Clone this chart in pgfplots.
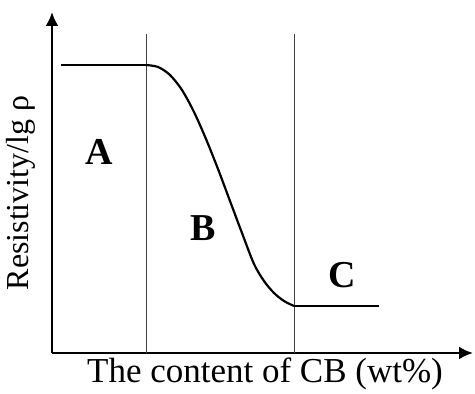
\documentclass[border=0pt]{standalone}
\usepackage{fontspec}
\setmainfont{Liberation Serif}
\usepackage{pgfplots}
\pgfplotsset{compat=1.18}
\usetikzlibrary{arrows.meta}

\pgfplotstableread{
x y
146 324
158 322
170 314
182 299
194 277
206 250
218 220
230 188
242 156
254 125
264 108
274 96
284 88
294 83
}\curveB

\begin{document}
\begin{tikzpicture}
  \begin{axis}[
      scale only axis,
      width=421pt, height=341pt,
      xmin=52, xmax=473, ymin=36, ymax=377,
      axis lines=left,
      ticks=none,
      clip=false,
      axis line style={line width=2.4pt, -{Latex[length=14pt,width=13pt]}},
    ]
    \path (axis cs:0,0) rectangle (axis cs:475,389);
    % region borders
    \addplot[black!75, line width=0.8pt] coordinates {(146,36) (146,355)};
    \addplot[black!75, line width=0.8pt] coordinates {(294,36) (294,355)};
    % resistivity curve
    \addplot[black, line width=2.2pt] coordinates {(61,324) (146,324)};
    \addplot[black, line width=2.2pt, smooth] table {\curveB};
    \addplot[black, line width=2.2pt] coordinates {(294,83) (379,83)};
    % region names
    \node[font=\fontsize{38}{42}\selectfont\bfseries] at (axis cs:99,237) {A};
    \node[font=\fontsize{38}{42}\selectfont\bfseries] at (axis cs:203,161) {B};
    \node[font=\fontsize{38}{42}\selectfont\bfseries] at (axis cs:342,114) {C};
    % axis titles
    \node[font=\fontsize{35}{40}\selectfont, anchor=base] at (axis cs:265,6) {The content of CB (wt\%)};
    \node[font=\fontsize{32}{38}\selectfont, rotate=90] at (axis cs:21,196) {Resistivity/lg ρ};
  \end{axis}
\end{tikzpicture}
\end{document}
